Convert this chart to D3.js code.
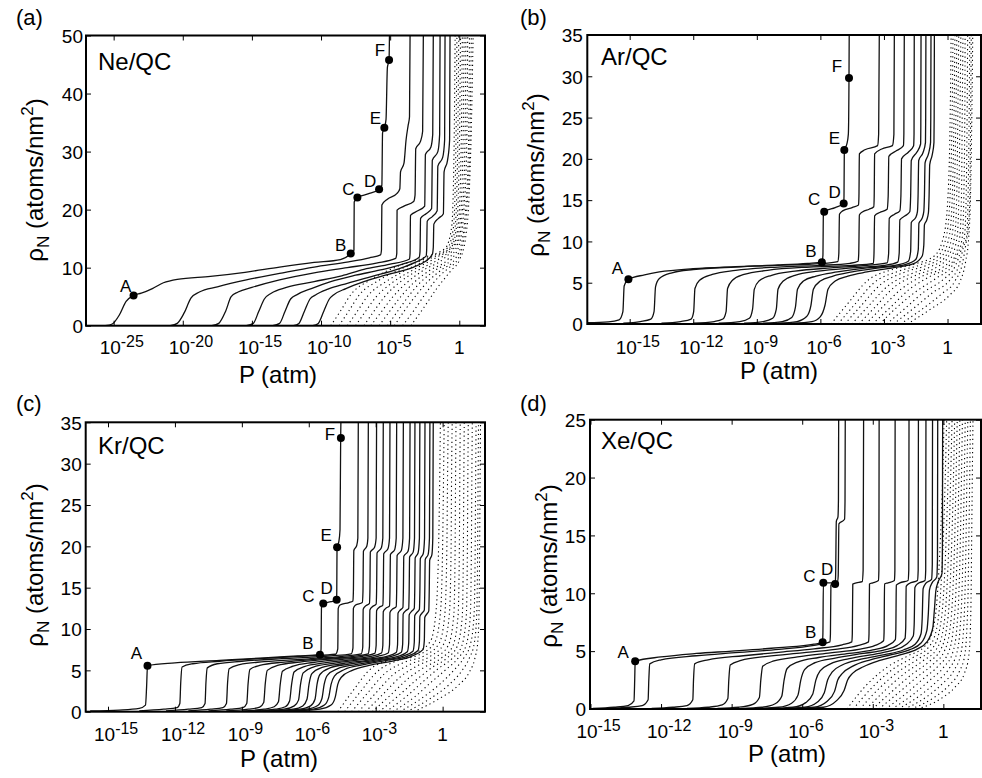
<!DOCTYPE html>
<html><head><meta charset="utf-8">
<script src="https://cdn.jsdelivr.net/npm/d3@7"></script>
<style>
body{margin:0;background:#fff}
svg{display:block}
text{font-family:"Liberation Sans",Arial,Helvetica,sans-serif;fill:#000}
</style>
</head><body>
<svg id="c" width="982" height="778"></svg>
<script>
// ---------- DATA: points are [log10(P/atm), rho_N (atoms/nm^2)] ----------
// (a) Ne/QC
const neSolid = [
 [[-25.6,0],[-25.1,0.3],[-24.6,1.8],[-24.1,4.2],[-23.56,5.2],[-23,5.6],[-22.2,6.4],[-21.4,7.4],[-20.4,8.0],[-18,8.5],[-15.5,9.2],[-13,10.1],[-10.5,10.9],[-8.6,11.4],[-7.85,12.4],[-7.62,13],[-7.6,21.3],[-7.37,22.1],[-6.6,22.7],[-5.8,23.5],[-5.6,24.2],[-5.55,33.2],[-5.42,34.1],[-5.3,35.5],[-5.2,44.5],[-5.08,45.8],[-5.05,50]],
 [[-20.9,0],[-20.4,0.4],[-19.9,2.2],[-19.4,4.8],[-18.8,5.8],[-17.5,6.7],[-15.4,7.9],[-13,9.0],[-10.5,10.1],[-8,11.0],[-6.5,11.7],[-5.7,12.2],[-5.63,13],[-5.6,20.8],[-5.2,21.8],[-4.5,22.8],[-4.3,23.6],[-4.25,26.5],[-4.0,28],[-3.85,32],[-3.7,34.5],[-3.6,36],[-3.56,50]],
 [[-17.9,0],[-17.4,0.4],[-16.9,2.5],[-16.5,5.0],[-16.0,5.8],[-15,6.6],[-13,7.9],[-10.5,9.1],[-8.1,10.0],[-6,10.8],[-4.6,11.6],[-4.52,12.5],[-4.5,19.9],[-4.0,20.6],[-3.3,21.4],[-3.2,22.5],[-3.15,30.5],[-2.8,31.8],[-2.65,33.5],[-2.6,50]],
 [[-15.4,0],[-14.9,0.4],[-14.5,2.5],[-14.1,4.6],[-13.6,5.6],[-12.5,6.6],[-10.5,7.6],[-8.5,8.6],[-6.9,9.7],[-5,10.6],[-3.6,11.5],[-3.56,12.5],[-3.53,19],[-3,19.8],[-2.5,20.6],[-2.45,29.5],[-2.05,30.8],[-1.92,33],[-1.88,50]],
 [[-13.5,0],[-13.0,0.4],[-12.6,2.5],[-12.2,4.6],[-11.7,5.4],[-10.7,6.4],[-9.3,7.6],[-7.5,8.7],[-5.7,9.6],[-4,10.7],[-2.9,11.8],[-2.84,12.8],[-2.8,18.5],[-2.4,19.3],[-2.0,20.2],[-1.95,28.5],[-1.55,30],[-1.42,33],[-1.39,50]],
 [[-12.0,0],[-11.6,0.4],[-11.2,2.5],[-10.8,4.6],[-10.4,5.3],[-9.5,6.3],[-8.1,7.3],[-6.3,8.5],[-4.5,9.7],[-3.2,10.9],[-2.4,12.0],[-2.36,13],[-2.32,18],[-1.95,18.8],[-1.6,19.8],[-1.55,27.5],[-1.2,29],[-1.06,32],[-1.03,50]],
 [[-10.6,0],[-10.2,0.4],[-9.8,2.5],[-9.4,4.6],[-9.1,5.3],[-8.2,6.4],[-6.9,7.6],[-5.2,8.8],[-3.3,10.1],[-2.5,11.0],[-1.95,12.3],[-1.88,13.5],[-1.84,17.5],[-1.5,18.5],[-1.15,19.3],[-1.1,26.5],[-0.85,28.5],[-0.7,32],[-0.67,50]]
];
const neDotted = [
 [[-9.3,0],[-8.6,2.5],[-7.8,5.5],[-6.5,7.8],[-4.5,10.2],[-2.5,11.8],[-1.0,13.4],[-0.55,17],[-0.38,30],[-0.3,50]],
 [[-8.7,0],[-8.0,2.5],[-7.2,5.4],[-5.9,7.7],[-4.0,10.0],[-2.2,11.8],[-0.85,13.4],[-0.42,17],[-0.25,30],[-0.17,50]],
 [[-8.1,0],[-7.4,2.4],[-6.6,5.2],[-5.3,7.6],[-3.6,9.9],[-2.0,11.7],[-0.7,13.4],[-0.3,17],[-0.12,30],[-0.04,50]],
 [[-7.5,0],[-6.8,2.4],[-6.0,5.0],[-4.8,7.5],[-3.2,9.8],[-1.7,11.7],[-0.55,13.6],[-0.18,17.5],[0.0,30],[0.09,50]],
 [[-6.9,0],[-6.2,2.4],[-5.4,5.0],[-4.3,7.5],[-2.8,9.8],[-1.4,11.6],[-0.4,13.8],[-0.05,18],[0.13,30],[0.22,50]],
 [[-6.4,0],[-5.6,2.5],[-4.8,5.0],[-3.8,7.4],[-2.5,9.7],[-1.1,11.6],[-0.25,14],[0.08,18.5],[0.26,30],[0.35,50]],
 [[-5.8,0],[-5.0,2.6],[-4.2,5.1],[-3.3,7.4],[-2.1,9.6],[-0.8,11.5],[-0.1,14.2],[0.2,19],[0.4,30],[0.48,50]],
 [[-5.2,0],[-4.4,2.7],[-3.6,5.3],[-2.8,7.5],[-1.7,9.6],[-0.55,11.5],[0.05,14.4],[0.32,19.5],[0.53,30],[0.61,50]],
 [[-4.7,0],[-3.9,2.8],[-3.0,5.6],[-2.2,7.8],[-1.3,9.6],[-0.3,11.5],[0.2,14.6],[0.45,20],[0.66,30],[0.74,50]],
 [[-4.1,0],[-3.2,2.9],[-2.3,6.0],[-1.5,8.4],[-0.9,9.7],[-0.1,11.5],[0.32,14.8],[0.57,21],[0.77,32],[0.87,50]],
 [[-3.5,0],[-2.6,3],[-1.6,6.5],[-0.6,9.5],[0.05,11.5],[0.45,15],[0.7,22],[0.88,35],[1.0,50]]
];
const neMarks = [["A",-23.56,5.2],["B",-7.85,12.45],["C",-7.37,22.1],["D",-5.8,23.5],["E",-5.42,34.1],["F",-5.08,45.8]];
const neXTicks = [-25,-20,-15,-10,-5,0];
const neYTicks = [0,10,20,30,40,50];

// (b) Ar/QC
const arSolid = [
 [[-17,0.15],[-16,0.25],[-15.5,0.5],[-15.32,1.5],[-15.26,4.6],[-15.06,5.41],[-14.3,5.95],[-13.6,6.3],[-12,6.7],[-10,6.95],[-8,7.15],[-6.6,7.35],[-5.93,7.5],[-5.88,8.3],[-5.86,13.1],[-5.82,13.6],[-5.3,14.1],[-4.9,14.6],[-4.885,15.5],[-4.872,20.6],[-4.86,21.1],[-4.75,21.8],[-4.68,23],[-4.65,29.8],[-4.64,35]],
 [[-15.3,0.1],[-14.5,0.3],[-14.0,0.6],[-13.85,1.5],[-13.78,4.5],[-13.6,5.5],[-13.0,6.2],[-12,6.6],[-10,6.9],[-8,7.1],[-6,7.3],[-5.18,7.55],[-5.13,8.5],[-5.1,13.3],[-4.95,13.7],[-4.5,14.1],[-4.2,14.4],[-4.18,15.5],[-4.16,20.6],[-3.9,21.1],[-3.3,21.6],[-3.25,23],[-3.22,35]],
 [[-13.5,0.1],[-12.6,0.3],[-12.1,0.6],[-11.98,1.5],[-11.92,4.3],[-11.7,5.3],[-11.1,6.0],[-10,6.5],[-8,6.9],[-6,7.1],[-4.6,7.35],[-4.22,7.6],[-4.19,8.5],[-4.16,13.2],[-4.0,13.6],[-3.7,13.9],[-3.48,14.2],[-3.46,15.5],[-3.44,20.6],[-3.1,21.2],[-2.6,21.6],[-2.53,23],[-2.51,35]],
 [[-12,0.1],[-11,0.3],[-10.6,0.6],[-10.45,1.5],[-10.38,4.3],[-10.15,5.3],[-9.6,6.0],[-8.5,6.5],[-6.5,6.9],[-4.5,7.1],[-3.5,7.35],[-3.47,8.5],[-3.44,13.1],[-3.2,13.5],[-2.85,13.9],[-2.8,15.5],[-2.77,20.3],[-2.4,21],[-2.08,21.6],[-2.06,23],[-2.04,35]],
 [[-10.8,0.1],[-9.8,0.3],[-9.35,0.7],[-9.2,1.8],[-9.12,4.2],[-8.9,5.2],[-8.3,5.9],[-7.2,6.4],[-5.5,6.8],[-3.8,7.1],[-2.85,7.4],[-2.78,8.5],[-2.75,12.8],[-2.5,13.3],[-2.25,13.7],[-2.2,15.5],[-2.17,20],[-1.85,20.8],[-1.6,21.6],[-1.58,23],[-1.57,35]],
 [[-9.6,0.1],[-8.7,0.3],[-8.25,0.7],[-8.08,1.8],[-8.0,4.2],[-7.75,5.2],[-7.2,5.9],[-6.1,6.4],[-4.5,6.8],[-3.0,7.1],[-2.35,7.5],[-2.28,8.6],[-2.25,12.6],[-2.0,13.1],[-1.78,13.6],[-1.74,15.5],[-1.71,19.8],[-1.45,20.8],[-1.27,21.8],[-1.26,24],[-1.25,35]],
 [[-8.7,0.1],[-7.8,0.3],[-7.35,0.8],[-7.18,2],[-7.08,4.2],[-6.8,5.2],[-6.2,5.8],[-5.2,6.3],[-3.8,6.8],[-2.5,7.1],[-1.85,7.6],[-1.74,8.8],[-1.71,12.3],[-1.5,12.9],[-1.42,13.6],[-1.39,15.5],[-1.36,19.8],[-1.15,20.8],[-1.04,22],[-1.03,25],[-1.02,35]],
 [[-8,0.1],[-7.1,0.3],[-6.65,0.9],[-6.45,2.2],[-6.33,4.2],[-6.0,5.2],[-5.4,5.8],[-4.5,6.3],[-3.2,6.8],[-2.0,7.2],[-1.5,7.8],[-1.38,9],[-1.35,12.2],[-1.2,12.8],[-1.12,13.6],[-1.09,15.5],[-1.06,19.5],[-0.9,20.6],[-0.8,22],[-0.79,25],[-0.78,35]],
 [[-7.3,0.1],[-6.4,0.3],[-6.0,0.9],[-5.78,2.3],[-5.64,4.2],[-5.3,5.2],[-4.7,5.8],[-3.8,6.3],[-2.6,6.8],[-1.6,7.3],[-1.2,8.2],[-1.12,9.5],[-1.09,12],[-0.98,12.6],[-0.9,13.5],[-0.87,15.5],[-0.84,19.3],[-0.72,20.5],[-0.64,22],[-0.63,25],[-0.62,35]]
];
const arDotted = [
 [[-5.5,0],[-4.7,2.5],[-3.8,5.2],[-2.6,6.6],[-1.5,7.3],[-0.6,8.3],[-0.15,11],[0.05,17],[0.13,26],[0.17,35]],
 [[-5.17,0],[-4.37,2.4],[-3.47,5.0],[-2.3,6.4],[-1.25,7.2],[-0.45,8.2],[-0.03,10.95],[0.14,16.8],[0.22,26],[0.26,35]],
 [[-4.85,0],[-4.05,2.3],[-3.15,4.8],[-2.0,6.3],[-1.0,7.1],[-0.3,8.1],[0.1,10.9],[0.24,16.6],[0.31,26],[0.35,35]],
 [[-4.52,0],[-3.72,2.2],[-2.82,4.6],[-1.7,6.1],[-0.75,7.0],[-0.15,8.0],[0.22,10.8],[0.33,16.4],[0.4,26],[0.44,35]],
 [[-4.19,0],[-3.4,2.1],[-2.5,4.5],[-1.4,6.0],[-0.5,6.9],[0.0,8.0],[0.34,10.7],[0.44,16.2],[0.49,26],[0.53,35]],
 [[-3.86,0],[-3.05,2.1],[-2.15,4.3],[-1.1,5.9],[-0.25,6.8],[0.15,7.9],[0.46,10.7],[0.54,16],[0.59,26],[0.63,35]],
 [[-3.54,0],[-2.7,2.0],[-1.8,4.2],[-0.8,5.8],[0.0,6.9],[0.3,7.9],[0.58,10.6],[0.66,15.8],[0.7,27],[0.73,35]],
 [[-3.2,0],[-2.4,2.0],[-1.45,4.0],[-0.5,5.6],[0.2,7.0],[0.45,8.3],[0.7,10.6],[0.77,15.6],[0.82,27],[0.83,35]],
 [[-2.87,0],[-2.0,1.9],[-1.1,3.9],[-0.2,5.4],[0.38,7.1],[0.62,8.8],[0.8,10.6],[0.88,15.4],[0.93,27],[0.95,35]],
 [[-2.55,0],[-1.6,1.9],[-0.7,3.8],[0.1,5.3],[0.55,7.2],[0.76,9.4],[0.9,10.6],[0.97,15.2],[1.03,28],[1.05,35]],
 [[-2.22,0],[-1.2,1.8],[-0.3,3.6],[0.35,5.2],[0.7,7.3],[0.88,9.9],[0.99,12],[1.05,15],[1.1,28],[1.12,35]],
 [[-1.9,0],[-0.8,1.8],[0.1,3.5],[0.6,5.2],[0.85,7.5],[1.0,10.5],[1.08,15],[1.13,22],[1.17,30],[1.19,35]]
];
const arMarks = [["A",-15.06,5.41],["B",-5.93,7.47],["C",-5.82,13.6],["D",-4.9,14.6],["E",-4.87,21.07],["F",-4.65,29.8]];
const arXTicks = [-15,-12,-9,-6,-3,0];
const arYTicks = [0,5,10,15,20,25,30,35];

// (c) Kr/QC
const krSolid = [
 [[-15.8,0.1],[-14.5,0.2],[-13.6,0.4],[-13.32,0.8],[-13.27,3],[-13.23,5.56],[-12,5.9],[-10,6.2],[-8,6.5],[-6.5,6.75],[-5.5,6.9],[-5.45,7.5],[-5.43,12.6],[-5.35,13.1],[-5.0,13.3],[-4.75,13.55],[-4.745,14.5],[-4.735,19.3],[-4.73,19.9],[-4.65,20.6],[-4.6,22],[-4.57,33.1],[-4.56,35]],
 [[-13.6,0.1],[-12.5,0.3],[-11.9,0.5],[-11.78,1],[-11.74,3.5],[-11.68,5.4],[-11.2,5.8],[-10,6.1],[-8,6.45],[-6,6.75],[-4.8,6.95],[-4.7,7.6],[-4.68,12.5],[-4.6,12.9],[-4.2,13.2],[-4.02,13.4],[-4.0,14.5],[-3.98,19.5],[-3.85,20.1],[-3.8,21],[-3.78,35]],
 [[-12.4,0.1],[-11.4,0.3],[-10.8,0.5],[-10.65,1],[-10.61,3.5],[-10.55,5.3],[-10.1,5.8],[-9,6.1],[-7,6.45],[-5,6.75],[-4.1,7.0],[-4.02,7.7],[-4.0,12.5],[-3.9,12.9],[-3.6,13.2],[-3.57,14.5],[-3.55,19.4],[-3.4,20],[-3.35,21],[-3.33,35]],
 [[-11.4,0.1],[-10.4,0.3],[-9.85,0.5],[-9.69,1],[-9.64,3.5],[-9.57,5.2],[-9.1,5.7],[-8,6.05],[-6,6.4],[-4.5,6.7],[-3.65,7.0],[-3.58,7.8],[-3.56,12.4],[-3.45,12.8],[-3.28,13.1],[-3.26,14.5],[-3.24,19.3],[-3.05,19.9],[-2.98,21],[-2.96,35]],
 [[-10.5,0.1],[-9.5,0.3],[-8.95,0.5],[-8.78,1],[-8.72,3.4],[-8.64,5.1],[-8.2,5.6],[-7.1,6.0],[-5.4,6.4],[-4,6.7],[-3.34,7.0],[-3.28,7.9],[-3.26,12.3],[-3.15,12.7],[-2.98,13.0],[-2.96,14.5],[-2.94,19.2],[-2.75,19.8],[-2.68,21],[-2.66,35]],
 [[-9.7,0.1],[-8.7,0.3],[-8.2,0.55],[-8.02,1.1],[-7.95,3.4],[-7.86,5.0],[-7.4,5.6],[-6.4,6.0],[-4.9,6.4],[-3.6,6.7],[-3.04,7.05],[-2.98,8],[-2.96,12.2],[-2.85,12.6],[-2.68,12.9],[-2.66,14.5],[-2.64,19.1],[-2.45,19.7],[-2.38,21],[-2.36,35]],
 [[-9.0,0.1],[-8.0,0.3],[-7.55,0.6],[-7.36,1.2],[-7.28,3.3],[-7.18,4.9],[-6.7,5.5],[-5.8,5.95],[-4.4,6.35],[-3.2,6.7],[-2.74,7.1],[-2.68,8],[-2.66,12.1],[-2.55,12.5],[-2.38,12.8],[-2.36,14.5],[-2.34,19],[-2.15,19.6],[-2.08,21],[-2.06,35]],
 [[-8.5,0.1],[-7.5,0.3],[-7.05,0.6],[-6.86,1.3],[-6.77,3.3],[-6.66,4.8],[-6.2,5.45],[-5.3,5.9],[-4.0,6.3],[-2.9,6.7],[-2.44,7.1],[-2.38,8.1],[-2.36,12.0],[-2.25,12.4],[-2.08,12.7],[-2.06,14.5],[-2.04,18.9],[-1.85,19.5],[-1.78,21],[-1.76,35]],
 [[-8.1,0.1],[-7.1,0.3],[-6.65,0.7],[-6.46,1.4],[-6.37,3.3],[-6.25,4.7],[-5.8,5.4],[-4.9,5.85],[-3.6,6.3],[-2.5,6.7],[-2.08,7.15],[-2.02,8.1],[-2.0,11.9],[-1.9,12.3],[-1.78,12.6],[-1.76,14.5],[-1.74,18.8],[-1.55,19.4],[-1.48,21],[-1.46,35]],
 [[-7.7,0.1],[-6.7,0.3],[-6.27,0.7],[-6.08,1.5],[-5.99,3.3],[-5.86,4.6],[-5.4,5.35],[-4.5,5.8],[-3.3,6.25],[-2.3,6.7],[-1.85,7.2],[-1.79,8.2],[-1.77,11.8],[-1.66,12.2],[-1.52,12.5],[-1.5,14.5],[-1.48,18.7],[-1.32,19.3],[-1.26,21],[-1.24,35]],
 [[-7.4,0.1],[-6.4,0.3],[-5.92,0.7],[-5.72,1.5],[-5.63,3.3],[-5.5,4.5],[-5.05,5.3],[-4.2,5.75],[-3.0,6.25],[-2.0,6.7],[-1.58,7.25],[-1.52,8.3],[-1.5,11.7],[-1.4,12.1],[-1.27,12.5],[-1.25,14.5],[-1.23,18.6],[-1.1,19.2],[-1.04,21],[-1.02,35]],
 [[-7.1,0.1],[-6.1,0.3],[-5.6,0.75],[-5.41,1.6],[-5.31,3.3],[-5.17,4.4],[-4.7,5.2],[-3.9,5.7],[-2.8,6.2],[-1.8,6.7],[-1.33,7.3],[-1.27,8.4],[-1.25,11.6],[-1.15,12.0],[-1.04,12.4],[-1.02,14.5],[-1.0,18.5],[-0.87,19.1],[-0.81,21],[-0.79,35]],
 [[-6.8,0.1],[-5.8,0.3],[-5.3,0.8],[-5.11,1.7],[-5.0,3.3],[-4.85,4.3],[-4.4,5.1],[-3.6,5.65],[-2.5,6.2],[-1.6,6.7],[-1.1,7.4],[-1.04,8.5],[-1.02,11.5],[-0.93,11.9],[-0.82,12.3],[-0.8,14.5],[-0.78,18.4],[-0.65,19.0],[-0.59,21],[-0.57,35]],
 [[-6.5,0.1],[-5.5,0.3],[-5.0,0.8],[-4.81,1.8],[-4.7,3.3],[-4.53,4.2],[-4.05,5.0],[-3.3,5.6],[-2.2,6.15],[-1.4,6.7],[-0.88,7.5],[-0.82,8.6],[-0.8,11.4],[-0.71,11.8],[-0.62,12.2],[-0.6,14.5],[-0.58,18.3],[-0.48,19],[-0.44,21],[-0.42,35]]
];
const krDotted = [
 [[-4.7,0],[-4.0,2.6],[-3.3,5.0],[-2.3,6.3],[-1.3,7.0],[-0.55,8.5],[-0.3,12],[-0.18,20],[-0.13,28],[-0.1,35]],
 [[-4.39,0],[-3.66,2.5],[-2.95,4.8],[-2.0,6.2],[-1.05,6.9],[-0.35,8.4],[-0.1,11.9],[0.0,19.9],[0.04,28],[0.07,35]],
 [[-4.08,0],[-3.32,2.4],[-2.6,4.6],[-1.7,6.0],[-0.8,6.8],[-0.15,8.3],[0.1,11.8],[0.19,19.8],[0.22,28],[0.25,35]],
 [[-3.77,0],[-2.98,2.3],[-2.25,4.4],[-1.4,5.8],[-0.55,6.7],[0.05,8.2],[0.3,11.7],[0.38,19.7],[0.4,28],[0.43,35]],
 [[-3.46,0],[-2.64,2.2],[-1.9,4.2],[-1.1,5.6],[-0.3,6.6],[0.25,8.0],[0.5,11.6],[0.56,19.6],[0.58,28],[0.6,35]],
 [[-3.15,0],[-2.3,2.1],[-1.55,4.0],[-0.8,5.4],[-0.05,6.5],[0.45,7.9],[0.69,11.5],[0.75,19.5],[0.77,28],[0.79,35]],
 [[-2.85,0],[-1.95,2.0],[-1.2,3.8],[-0.5,5.3],[0.2,6.5],[0.65,7.9],[0.88,11.5],[0.93,19.5],[0.95,28],[0.97,35]],
 [[-2.54,0],[-1.6,1.9],[-0.85,3.7],[-0.2,5.2],[0.45,6.5],[0.85,7.9],[1.06,11.5],[1.11,19.5],[1.13,28],[1.15,35]],
 [[-2.23,0],[-1.25,1.8],[-0.5,3.6],[0.15,5.1],[0.7,6.5],[1.05,8.0],[1.24,11.6],[1.29,19.6],[1.31,28],[1.33,35]],
 [[-1.92,0],[-0.9,1.7],[-0.1,3.4],[0.5,5.0],[0.95,6.5],[1.25,8.2],[1.41,11.7],[1.46,19.7],[1.48,28],[1.5,35]],
 [[-1.61,0],[-0.55,1.6],[0.3,3.3],[0.85,4.9],[1.2,6.5],[1.42,8.3],[1.53,11.8],[1.57,19.8],[1.59,28],[1.61,35]],
 [[-1.3,0],[-0.2,1.5],[0.7,3.2],[1.2,4.8],[1.45,6.5],[1.58,8.5],[1.63,12],[1.66,20],[1.68,28],[1.7,35]]
];
const krMarks = [["A",-13.23,5.56],["B",-5.5,6.9],["C",-5.35,13.1],["D",-4.75,13.55],["E",-4.73,19.9],["F",-4.56,33.1]];
const krXTicks = [-15,-12,-9,-6,-3,0];
const krYTicks = [0,5,10,15,20,25,30,35];

// (d) Xe/QC
const xeSolid = [
 [[-14.9,0.05],[-14,0.15],[-13.4,0.3],[-13.15,0.7],[-13.12,2.5],[-13.1,4.12],[-12,4.5],[-10.5,4.8],[-9,5.0],[-7,5.3],[-5.5,5.6],[-5.14,5.76],[-5.12,6.5],[-5.1,10.9],[-4.8,10.9],[-4.6,10.85],[-4.58,11.5],[-4.55,16.2],[-4.48,16.6],[-4.46,18],[-4.45,25]],
 [[-14.3,0.05],[-13.4,0.15],[-12.8,0.3],[-12.55,0.8],[-12.52,2.5],[-12.48,3.9],[-12,4.25],[-10.5,4.6],[-9,4.85],[-7,5.15],[-5.5,5.5],[-4.82,5.8],[-4.8,6.5],[-4.78,10.7],[-4.7,10.9],[-4.5,11.0],[-4.47,11.5],[-4.44,16.0],[-4.2,16.4],[-4.18,18],[-4.17,25]],
 [[-12.4,0.05],[-11.5,0.15],[-10.9,0.3],[-10.65,0.8],[-10.62,2.5],[-10.57,3.9],[-10,4.25],[-8.5,4.6],[-7,4.9],[-5.5,5.2],[-4.3,5.55],[-3.89,5.8],[-3.87,6.5],[-3.85,10.8],[-3.7,10.9],[-3.45,11.0],[-3.41,12],[-3.39,25]],
 [[-10.9,0.05],[-10,0.15],[-9.4,0.35],[-9.16,0.9],[-9.12,2.5],[-9.06,3.8],[-8.6,4.2],[-7.5,4.55],[-6,4.85],[-4.6,5.15],[-3.6,5.5],[-3.18,5.8],[-3.16,6.5],[-3.14,10.8],[-3.0,10.9],[-2.76,11.1],[-2.74,12],[-2.73,25]],
 [[-9.6,0.05],[-8.7,0.15],[-8.1,0.4],[-7.82,1.0],[-7.76,2.5],[-7.68,3.7],[-7.2,4.15],[-6.2,4.5],[-4.8,4.85],[-3.6,5.15],[-2.9,5.5],[-2.54,5.9],[-2.52,6.6],[-2.5,10.8],[-2.35,10.9],[-2.08,11.1],[-2.06,12],[-2.05,25]],
 [[-8.6,0.05],[-7.7,0.15],[-7.15,0.45],[-6.87,1.1],[-6.77,2.5],[-6.64,3.5],[-6.2,4.05],[-5.3,4.45],[-4.0,4.8],[-3.0,5.1],[-2.35,5.5],[-2.04,6.0],[-2.02,6.8],[-2.0,10.7],[-1.85,10.9],[-1.5,11.1],[-1.47,12],[-1.46,25]],
 [[-7.9,0.05],[-7.0,0.15],[-6.45,0.5],[-6.18,1.2],[-6.06,2.5],[-5.9,3.4],[-5.45,4.0],[-4.6,4.4],[-3.4,4.8],[-2.5,5.1],[-1.95,5.5],[-1.63,6.1],[-1.6,7.0],[-1.58,10.6],[-1.45,10.85],[-1.1,11.1],[-1.07,12],[-1.06,25]],
 [[-7.3,0.05],[-6.4,0.15],[-5.85,0.55],[-5.55,1.3],[-5.42,2.5],[-5.24,3.3],[-4.8,3.9],[-4.0,4.35],[-2.9,4.75],[-2.1,5.1],[-1.6,5.55],[-1.28,6.3],[-1.24,7.3],[-1.21,10.5],[-1.08,10.85],[-0.78,11.1],[-0.75,12],[-0.74,25]],
 [[-6.8,0.05],[-5.9,0.15],[-5.35,0.6],[-5.06,1.4],[-4.92,2.5],[-4.72,3.2],[-4.3,3.8],[-3.5,4.3],[-2.5,4.7],[-1.7,5.1],[-1.2,5.6],[-0.95,6.5],[-0.9,7.8],[-0.86,10.4],[-0.75,10.85],[-0.5,11.2],[-0.47,12.5],[-0.46,25]],
 [[-6.4,0.05],[-5.5,0.15],[-4.95,0.65],[-4.63,1.5],[-4.49,2.5],[-4.28,3.1],[-3.85,3.7],[-3.1,4.25],[-2.2,4.7],[-1.4,5.15],[-0.95,5.7],[-0.7,6.8],[-0.64,8.2],[-0.59,10.3],[-0.48,10.9],[-0.28,11.4],[-0.25,13],[-0.24,25]],
 [[-6.0,0.05],[-5.1,0.15],[-4.55,0.7],[-4.22,1.6],[-4.07,2.5],[-3.85,3.1],[-3.4,3.65],[-2.7,4.2],[-1.8,4.7],[-1.1,5.2],[-0.7,5.8],[-0.45,7.0],[-0.38,8.6],[-0.32,10.2],[-0.22,11.0],[-0.06,11.7],[-0.04,14],[-0.03,25]]
];
const xeDotted = [
 [[-4.1,0],[-3.3,2.0],[-2.4,3.6],[-1.5,4.6],[-0.8,5.4],[-0.45,6.8],[-0.25,10],[-0.12,15],[-0.03,20],[0.03,25]],
 [[-3.83,0],[-3.01,1.9],[-2.14,3.45],[-1.28,4.46],[-0.63,5.33],[-0.3,6.82],[-0.12,10],[0.0,14.9],[0.08,20],[0.14,25]],
 [[-3.55,0],[-2.72,1.8],[-1.87,3.29],[-1.06,4.33],[-0.46,5.25],[-0.16,6.84],[0.01,10],[0.12,14.8],[0.2,20],[0.25,25]],
 [[-3.28,0],[-2.43,1.7],[-1.61,3.14],[-0.85,4.19],[-0.29,5.18],[-0.01,6.85],[0.14,10],[0.24,14.7],[0.31,20],[0.37,25]],
 [[-3.01,0],[-2.14,1.6],[-1.35,2.98],[-0.63,4.05],[-0.12,5.11],[0.13,6.87],[0.27,10],[0.36,14.6],[0.43,20],[0.48,25]],
 [[-2.74,0],[-1.85,1.5],[-1.08,2.83],[-0.41,3.92],[0.05,5.04],[0.28,6.89],[0.4,10],[0.48,14.5],[0.54,20],[0.59,25]],
 [[-2.46,0],[-1.55,1.4],[-0.82,2.67],[-0.19,3.78],[0.23,4.96],[0.42,6.91],[0.53,10],[0.6,14.45],[0.66,20],[0.7,25]],
 [[-2.19,0],[-1.26,1.3],[-0.56,2.52],[0.03,3.65],[0.4,4.89],[0.57,6.93],[0.66,10],[0.72,14.36],[0.77,20],[0.81,25]],
 [[-1.92,0],[-0.97,1.2],[-0.29,2.36],[0.25,3.51],[0.57,4.82],[0.71,6.95],[0.79,10],[0.84,14.27],[0.89,20],[0.93,25]],
 [[-1.65,0],[-0.68,1.1],[-0.03,2.21],[0.46,3.37],[0.74,4.75],[0.86,6.96],[0.92,10],[0.96,14.18],[1.0,20],[1.04,25]],
 [[-1.37,0],[-0.39,1.0],[0.24,2.05],[0.68,3.24],[0.91,4.67],[1.0,6.98],[1.05,10],[1.08,14.09],[1.12,20],[1.15,25]],
 [[-1.1,0],[-0.1,0.9],[0.5,1.9],[0.9,3.1],[1.08,4.6],[1.15,7],[1.18,10],[1.2,14],[1.23,20],[1.26,25]]
];
const xeMarks = [["A",-13.1,4.12],["B",-5.13,5.76],["C",-5.1,10.9],["D",-4.6,10.8]];
const xeXTicks = [-15,-12,-9,-6,-3,0];
const xeYTicks = [0,5,10,15,20,25];

// ---------- LAYOUT (pixels) ----------
const panels = [
 {id:"a", letter:"(a)", name:"Ne/QC", solid:neSolid, dots:neDotted, marks:neMarks, xTicks:neXTicks, yTicks:neYTicks,
  xDom:[-27,1.86], yDom:[0,50], l:86, r:485, t:35.5, b:325.7, xLabY:354, xLabDx:0, pX:278, pY:382.5, yLX:43, yLY:180,
  letX:16, letY:25, nameX:98, nameY:70, yTickPad:3,
  off:{A:[-8,-9],B:[-10,-8],C:[-9,-8],D:[-9,-8],E:[-9,-9],F:[-9,-9]}},
 {id:"b", letter:"(b)", name:"Ar/QC", solid:arSolid, dots:arDotted, marks:arMarks, xTicks:arXTicks, yTicks:arYTicks,
  xDom:[-17,1.58], yDom:[0,35], l:587.3, r:981, t:35, b:324, xLabY:353.5, xLabDx:0, pX:779, pY:378.5, yLX:544, yLY:175,
  letX:520, letY:25, nameX:601, nameY:65, yTickPad:4.5,
  off:{A:[-11,-11],B:[-11,-11],C:[-10,-12],D:[-9,-11],E:[-10,-12],F:[-12,-11]}},
 {id:"c", letter:"(c)", name:"Kr/QC", solid:krSolid, dots:krDotted, marks:krMarks, xTicks:krXTicks, yTicks:krYTicks,
  xDom:[-16,1.9], yDom:[0,35], l:85.7, r:485, t:422.3, b:711.7, xLabY:740.5, xLabDx:0, pX:279, pY:767, yLX:43, yLY:565,
  letX:16, letY:411, nameX:98, nameY:454, yTickPad:4,
  off:{A:[-11,-12],B:[-12,-11],C:[-15,-7],D:[-10,-11],E:[-11,-12],F:[-11,-4]}},
 {id:"d", letter:"(d)", name:"Xe/QC", solid:xeSolid, dots:xeDotted, marks:xeMarks, xTicks:xeXTicks, yTicks:xeYTicks,
  xDom:[-15.02,1.6], yDom:[0,25], l:590, r:981, t:419.7, b:709, xLabY:737.5, xLabDx:0, pX:787, pY:762, yLX:557, yLY:566,
  letX:520, letY:411, nameX:601, nameY:449, yTickPad:4,
  off:{A:[-12,-9],B:[-12,-10],C:[-14,-6],D:[-8,-15]}}
];

const FONT = '"Liberation Sans", Arial, Helvetica, sans-serif';
const svg = d3.select("#c");
const defs = svg.append("defs");

panels.forEach(p => {
  const x = d3.scaleLog().domain([Math.pow(10,p.xDom[0]), Math.pow(10,p.xDom[1])]).range([p.l, p.r]);
  const y = d3.scaleLinear().domain(p.yDom).range([p.b, p.t]);
  const g = svg.append("g");
  const cid = "clip-" + p.id;
  defs.append("clipPath").attr("id", cid).append("rect")
    .attr("x", p.l).attr("y", p.t).attr("width", p.r - p.l).attr("height", p.b - p.t);

  const line = d3.line().x(d => x(Math.pow(10, d[0]))).y(d => y(d[1])).curve(d3.curveMonotoneX);
  const plot = g.append("g").attr("clip-path", `url(#${cid})`);

  plot.selectAll("path.dotc").data(p.dots).join("path").attr("class","dotc")
    .attr("d", line).attr("fill","none").attr("stroke","#000").attr("stroke-width",1.1)
    .attr("stroke-dasharray","1.2 3.2").attr("stroke-linecap","butt");
  plot.selectAll("path.sol").data(p.solid).join("path").attr("class","sol")
    .attr("d", line).attr("fill","none").attr("stroke","#111").attr("stroke-width",1.3)
    .attr("stroke-linejoin","round");

  // markers
  g.selectAll("circle.mk").data(p.marks).join("circle").attr("class","mk")
    .attr("cx", d => x(Math.pow(10,d[1]))).attr("cy", d => y(d[2])).attr("r", 4).attr("fill","#000");
  g.selectAll("text.mkl").data(p.marks).join("text").attr("class","mkl")
    .attr("x", d => x(Math.pow(10,d[1])) + p.off[d[0]][0])
    .attr("y", d => y(d[2]) + p.off[d[0]][1])
    .attr("text-anchor","middle").attr("dominant-baseline","central")
    .attr("font-size",17).text(d => d[0]);

  // axes (ticks inward)
  const tv = p.xTicks.map(e => Math.pow(10, e));
  const axB = g.append("g").attr("transform",`translate(0,${p.b})`)
    .call(d3.axisBottom(x).tickValues(tv).tickSizeInner(-5).tickSizeOuter(0).tickFormat(""));
  const axT = g.append("g").attr("transform",`translate(0,${p.t})`)
    .call(d3.axisTop(x).tickValues(tv).tickSizeInner(-5).tickSizeOuter(0).tickFormat(""));
  const axL = g.append("g").attr("transform",`translate(${p.l},0)`)
    .call(d3.axisLeft(y).tickValues(p.yTicks).tickSizeInner(-5).tickSizeOuter(0).tickPadding(p.yTickPad));
  const axR = g.append("g").attr("transform",`translate(${p.r},0)`)
    .call(d3.axisRight(y).tickValues(p.yTicks).tickSizeInner(-5).tickSizeOuter(0).tickFormat(""));
  [axB, axT, axL, axR].forEach(a => { a.select(".domain").remove(); a.selectAll(".tick line").attr("stroke","#000"); });
  axL.attr("font-size",19).attr("font-family",FONT);
  axL.selectAll("text").attr("fill","#000").attr("dy","0.36em");

  // x tick labels: 10^e
  p.xTicks.forEach(e => {
    const tx = x(Math.pow(10, e));
    const t = g.append("text").attr("y", p.xLabY).attr("font-size",19);
    if (e === 0) {
      t.attr("x", tx).attr("text-anchor","middle").text("1");
    } else {
      t.attr("x", tx - 14 + p.xLabDx).attr("text-anchor","start");
      t.append("tspan").text("10");
      t.append("tspan").attr("dy",-7).attr("font-size",16).text(String(e));
    }
  });

  // frame
  g.append("rect").attr("x",p.l).attr("y",p.t).attr("width",p.r-p.l).attr("height",p.b-p.t)
    .attr("fill","none").attr("stroke","#000").attr("stroke-width",2);

  // labels
  g.append("text").attr("x",p.pX).attr("y",p.pY).attr("text-anchor","middle").attr("font-size",24).text("P (atm)");
  const yl = g.append("text").attr("transform",`translate(${p.yLX},${p.yLY}) rotate(-90)`)
    .attr("text-anchor","middle").attr("font-size",24);
  yl.append("tspan").text("ρ");
  yl.append("tspan").attr("font-size",17).attr("dy",6).text("N");
  yl.append("tspan").attr("dy",-6).text(" (atoms/nm");
  yl.append("tspan").attr("font-size",17).attr("dy",-10).text("2");
  yl.append("tspan").attr("dy",10).text(")");
  g.append("text").attr("x",p.letX).attr("y",p.letY).attr("font-size",22).text(p.letter);
  g.append("text").attr("x",p.nameX).attr("y",p.nameY).attr("font-size",24).text(p.name);
});
</script>
</body></html>
